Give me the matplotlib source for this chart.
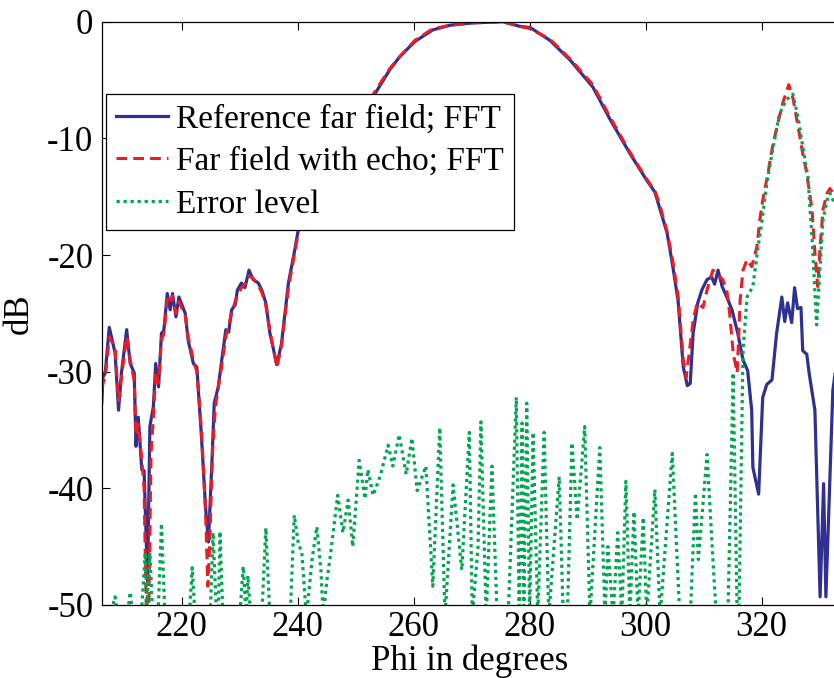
import matplotlib
matplotlib.use('Agg')
import matplotlib.pyplot as plt

plt.rcParams['font.family'] = ['Liberation Serif', 'DejaVu Serif']
plt.rcParams['axes.unicode_minus'] = False

# reference far field (FFT)
ref_phi = [206.2, 206.4, 206.8, 207.5, 208.5, 209.1, 209.6, 210.5, 211.1, 211.8,
           212.1, 212.5, 213.1, 213.5, 214.1, 214.5, 215.1, 215.5, 216.0, 216.5,
           216.9, 217.5, 218.0, 218.4, 219.0, 219.5, 220.6, 221.1, 222.0, 222.6,
           223.4, 224.1, 224.6, 225.2, 225.6, 226.3, 226.9, 227.6, 228.1, 228.6,
           229.2, 229.6, 230.3, 230.9, 231.6, 232.3, 233.2, 233.8, 234.5, 235.2,
           236.4, 237.2, 238.4, 239.4, 240.4, 243.8, 248.1, 253.3, 255.9, 257.6,
           260.2, 263.3, 266.3, 270.2, 275.4, 278.3, 280.1, 283.5, 287.0, 290.9,
           293.9, 297.3, 300.2, 301.6, 302.5, 303.7, 304.7, 305.6, 306.5, 307.2,
           307.7, 308.2, 309.0, 309.7, 310.6, 311.4, 311.9, 312.5, 313.2, 314.0,
           314.9, 315.9, 316.8, 317.6, 318.3, 318.5, 319.5, 320.2, 320.9, 321.8,
           322.6, 323.5, 324.0, 324.5, 325.2, 325.7, 326.2, 326.8, 327.1, 327.8,
           328.2, 329.2, 330.1, 330.7, 331.1, 332.3, 333.0]
ref_db = [-32.7, -30.5, -30.1, -26.2, -28.4, -33.3, -30.1, -26.4, -29.3, -30.1,
          -36.4, -33.9, -38.4, -38.5, -48.0, -34.7, -33.0, -29.3, -31.3, -26.7,
          -26.5, -23.3, -24.7, -23.3, -25.3, -23.6, -25.0, -27.3, -29.3, -29.6,
          -35.6, -41.6, -44.6, -37.8, -32.7, -31.3, -29.0, -26.4, -26.6, -24.7,
          -24.3, -23.0, -22.4, -22.8, -21.3, -22.1, -22.4, -23.0, -24.1, -26.7,
          -29.4, -27.6, -22.4, -19.8, -17.0, -14.0, -10.0, -6.2, -4.1, -3.0,
          -1.7, -0.7, -0.3, -0.1, 0.0, -0.4, -0.5, -1.6, -3.3, -5.6,
          -8.4, -11.3, -13.6, -14.6, -16.1, -18.1, -21.0, -23.9, -29.6, -31.2,
          -31.0, -26.7, -24.1, -23.0, -22.1, -21.9, -22.5, -21.3, -22.7, -23.6,
          -24.7, -26.7, -29.0, -29.9, -33.3, -38.2, -40.5, -32.2, -31.1, -30.7,
          -26.7, -23.6, -25.7, -24.1, -25.8, -22.8, -24.6, -24.5, -28.2, -28.5,
          -30.1, -33.3, -49.3, -39.6, -49.3, -31.6, -29.0]

# far field with echo (FFT)
echo_phi = [206.2, 206.4, 206.8, 207.5, 208.5, 209.1, 209.6, 210.5, 211.1, 211.8,
            212.1, 212.5, 213.1, 213.5, 213.9, 214.3, 214.7, 215.1, 215.5, 216.0,
            216.5, 216.9, 217.5, 218.0, 218.4, 219.0, 219.5, 220.6, 221.1, 222.0,
            222.6, 223.4, 224.1, 224.5, 224.8, 225.3, 225.8, 226.4, 226.9, 227.6,
            228.1, 228.6, 229.2, 229.6, 230.3, 230.9, 231.6, 232.3, 233.2, 233.8,
            234.5, 235.2, 236.4, 237.2, 238.4, 239.4, 240.4, 243.8, 248.1, 253.3,
            255.9, 257.6, 260.2, 263.3, 266.3, 270.2, 275.4, 278.3, 280.1, 283.5,
            287.0, 290.9, 293.9, 297.3, 300.2, 301.6, 302.5, 303.7, 304.7, 305.6,
            306.5, 307.0, 308.2, 308.9, 309.9, 310.6, 311.6, 312.5, 313.3, 314.0,
            314.5, 315.1, 315.8, 316.3, 316.8, 317.5, 318.3, 319.2, 319.7, 320.2,
            321.1, 321.9, 322.8, 323.7, 324.7, 325.4, 326.3, 327.1, 327.8, 328.7,
            329.2, 329.7, 330.1, 330.6, 331.3, 331.8, 332.5, 333.0]
echo_db = [-31.5, -31.0, -30.5, -27.0, -28.0, -32.5, -30.5, -27.0, -29.0, -30.8,
           -35.5, -34.5, -37.5, -40.0, -51.0, -51.0, -37.0, -34.0, -30.0, -31.0,
           -27.2, -26.8, -23.8, -24.2, -23.5, -25.0, -24.0, -25.2, -27.0, -29.0,
           -30.0, -35.0, -42.0, -48.4, -45.0, -37.0, -33.0, -31.0, -29.5, -27.0,
           -26.0, -25.0, -24.0, -23.5, -22.8, -22.5, -21.8, -22.0, -22.6, -23.2,
           -24.3, -26.5, -29.6, -27.8, -22.8, -20.0, -17.3, -14.0, -10.0, -6.0,
           -4.0, -3.0, -1.6, -0.6, -0.3, -0.1, 0.0, -0.4, -0.6, -1.5,
           -3.2, -5.4, -8.2, -11.2, -13.5, -14.5, -15.8, -18.0, -20.5, -23.5,
           -29.0, -30.5, -25.6, -24.1, -24.5, -23.0, -21.3, -21.7, -22.1, -23.0,
           -25.0, -28.4, -30.1, -23.9, -21.3, -20.4, -21.0, -19.3, -17.0, -15.3,
           -13.0, -10.7, -8.7, -6.9, -5.4, -6.5, -9.0, -11.3, -13.0, -16.1,
           -19.8, -22.7, -19.3, -16.1, -14.7, -14.3, -14.8, -15.5]

# error level
err_phi = [206.2, 207.6, 208.5, 209.0, 210.6, 211.1, 211.6, 213.0, 213.7, 214.0,
           214.5, 215.0, 215.9, 216.5, 217.1, 221.3, 221.8, 222.3, 224.9, 225.4,
           226.0, 226.3, 226.6, 227.1, 230.0, 230.6, 231.1, 231.4, 231.9, 233.8,
           234.5, 235.2, 238.7, 239.4, 240.1, 240.7, 241.5, 242.5, 243.3, 244.0,
           244.4, 245.0, 245.6, 246.9, 247.8, 248.7, 249.5, 250.6, 251.6, 252.1,
           253.0, 254.2, 255.6, 256.4, 257.5, 258.7, 259.7, 260.6, 262.1, 263.3,
           264.5, 265.4, 266.8, 268.3, 269.6, 270.1, 271.1, 271.6, 272.5, 273.5,
           274.4, 276.3, 277.7, 278.2, 278.7, 279.0, 279.5, 280.0, 280.6, 281.4,
           282.5, 283.3, 284.2, 285.1, 285.8, 286.5, 287.3, 288.2, 289.5, 290.4,
           292.1, 293.0, 293.5, 294.4, 295.2, 295.9, 296.6, 297.3, 298.0, 298.7,
           299.6, 300.2, 301.6, 302.5, 304.6, 305.9, 307.7, 308.6, 309.1, 310.6,
           311.6, 312.2, 314.2, 315.1, 315.8, 316.1, 316.8, 317.5, 318.5, 319.4,
           320.1, 320.9, 321.9, 323.1, 324.3, 325.4, 326.3, 327.1, 328.0, 328.8,
           329.5, 330.1, 330.6, 331.3, 331.8, 332.5, 333.0]
err_db = [-51, -51, -49.3, -51, -51, -48.9, -51, -51, -45.5, -50,
          -45.5, -51, -51, -43.0, -51, -51, -46.8, -51, -51, -43.8,
          -51, -51, -43.7, -51, -51, -46.7, -51, -47.5, -51, -51,
          -43.4, -51, -51, -42.3, -44.7, -45.5, -51, -46.0, -43.3, -47.0,
          -51, -48.0, -45.9, -40.6, -43.8, -41.0, -45.0, -37.6, -40.9, -38.4,
          -40.6, -39.0, -36.3, -38.1, -35.4, -38.8, -35.7, -40.2, -38.1, -48.4,
          -34.8, -51, -39.7, -47.0, -35.2, -51, -45.0, -34.3, -51, -38.1,
          -51, -51, -32.2, -51, -34.4, -51, -32.7, -51, -35.2, -51,
          -35.2, -51, -45.0, -39.0, -51, -51, -36.1, -42.7, -34.7, -51,
          -36.5, -51, -45.0, -51, -43.8, -51, -39.4, -51, -42.0, -51,
          -42.5, -51, -40.1, -51, -37.0, -51, -51, -40.4, -46.1, -37.1,
          -46.0, -51, -51, -30.1, -51, -51, -28.2, -23.6, -22.7, -19.3,
          -17.0, -13.9, -11.0, -7.9, -6.7, -6.2, -8.2, -10.7, -13.3, -19.3,
          -26.0, -21.0, -17.0, -15.3, -14.7, -15.5, -16.0]

fig = plt.figure(figsize=(8.34, 6.78), dpi=100)
ax = fig.add_axes([0.122, 0.1077, 0.8815, 0.8603])

ax.plot(ref_phi, ref_db, color='#2e3192', linewidth=2.3, label='Reference far field; FFT')
ax.plot(echo_phi, echo_db, color='#ed1c24', linewidth=2.2, linestyle=(0, (3.5, 2.0)),
        label='Far field with echo; FFT')
ax.plot(err_phi, err_db, color='#00a651', linewidth=2.3, linestyle=(0, (1.0, 1.2)),
        label='Error level')

ax.set_xlim(206.2, 333.0)
ax.set_ylim(-50, 0)
ax.set_xticks([220, 240, 260, 280, 300, 320])
ax.set_yticks([-50, -40, -30, -20, -10, 0])
ax.tick_params(direction='in', top=True, right=False, labelsize=25, length=6, width=0.8)
ax.tick_params(axis='x', pad=4)
ax.tick_params(axis='y', pad=6)
ax.spines['right'].set_visible(False)
for s in ['left', 'top', 'bottom']:
    ax.spines[s].set_linewidth(0.9)

ax.set_xlabel('Phi in degrees', fontsize=25, labelpad=1)
ax.set_ylabel('dB', fontsize=25, labelpad=8)

leg = ax.legend(loc='upper left', bbox_to_anchor=(0.0059, 0.876), borderaxespad=0,
                fontsize=24, fancybox=False, edgecolor='black', framealpha=1,
                handlelength=1.55, handletextpad=0.25, labelspacing=0.36, borderpad=0.3)
leg.get_frame().set_linewidth(0.9)

fig.savefig('out.png', dpi=100)
